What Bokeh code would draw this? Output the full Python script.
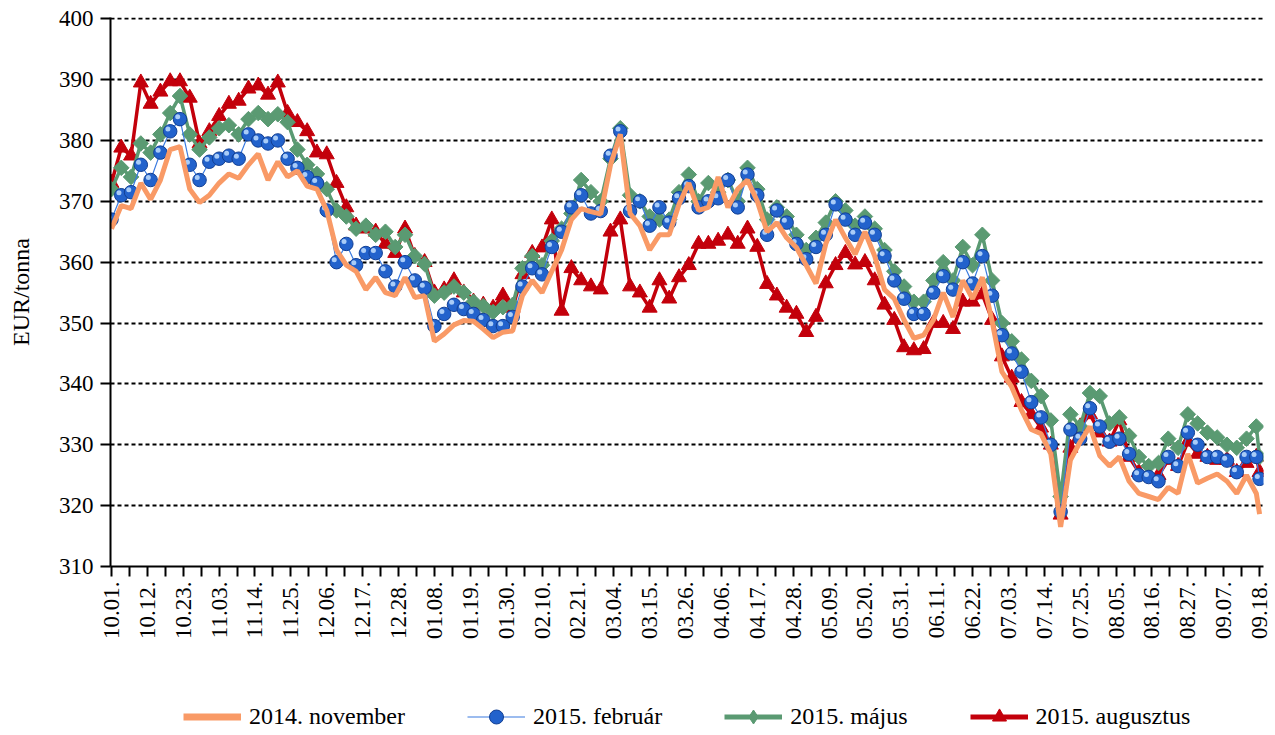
import numpy as np
from bokeh.plotting import figure
from bokeh.layouts import column
from bokeh.models import Range1d, FixedTicker, Legend, LegendItem
from bokeh.embed import file_html
from bokeh.resources import INLINE

# day offsets from 2014.10.01 (sampled every 3 days, last = 2015.09.18)
days = list(range(0, 352, 3)) + [352]

nov_2014 = [
    365.5, 369.3, 368.8, 373, 370.3, 373.5, 378.5, 379, 372, 369.8,
    371, 373, 374.5, 373.8, 376, 377.8, 373.5, 376.5, 374, 375,
    372.5, 372, 368.5, 362, 359.5, 358.5, 355.5, 357.5, 355, 354.5,
    357.5, 354.2, 354.5, 347, 348.2, 349.7, 350.4, 350.3, 349, 347.6,
    348.5, 348.7, 354.5, 357, 355, 358.5, 362, 367, 368.8, 368.3,
    367.9, 376, 381, 368, 366, 362, 364.5, 364.5, 369.5, 373,
    368.5, 369, 374, 369, 372, 373.5, 370, 365, 366.5, 364,
    362.4, 359.5, 356.5, 363, 367, 364, 361.3, 365, 361, 355.5,
    354, 350.5, 347.5, 348, 350.5, 355, 351, 357, 354, 357.5,
    350.3, 342, 339.5, 335.7, 332.5, 331.8, 328.5, 316.5, 327.5, 330.5,
    333, 328.2, 326.5, 328, 324, 322, 321.5, 321, 323, 322,
    328.5, 323.7, 324.5, 325.2, 324, 322, 325, 322, 318.6,
]

feb_2015 = [
    367, 371, 371.5, 376, 373.5, 378, 381.5, 383.5, 376, 373.5,
    376.5, 377, 377.5, 377, 381, 380, 379.5, 380, 377, 375.5,
    374, 373, 368.5, 360, 363, 359.5, 361.5, 361.5, 358.5, 356,
    360, 357, 355.8, 349.5, 351.5, 353, 352.3, 351.5, 350.5, 349.5,
    349.5, 351, 356, 359, 358, 362.5, 365, 369, 371, 368,
    368.4, 377.5, 381.5, 368.4, 370, 366, 369, 366.5, 370.5, 372.5,
    369, 370, 370.5, 373.5, 369, 374.4, 371, 364.5, 368.5, 366.5,
    363, 360.5, 362.5, 364.5, 369.5, 367, 364.5, 366.5, 364.5, 361,
    357, 354, 351.5, 351.5, 355, 357.7, 355.5, 360, 356.5, 361,
    354.5, 348, 345, 342, 337, 334.5, 330, 319, 332.5, 331,
    336, 333, 330.5, 331, 328.5, 325, 324.7, 324, 328, 326.5,
    332, 330, 328, 328, 327.4, 325.5, 328, 328, 324.4,
]

maj_2015 = [
    372, 375.5, 374, 379.5, 378, 381, 384.5, 387.3, 381, 378.5,
    380.5, 382, 382.5, 381, 383.5, 384.5, 383.5, 384.3, 383, 378.5,
    376, 374.5, 372, 368.5, 367.5, 365.5, 366, 364.5, 365, 362.5,
    364.5, 361, 359.7, 354.5, 355, 356, 355, 353.5, 352.8, 351.8,
    352.6, 353, 359, 361, 359.5, 363.5, 365.5, 368, 373.5, 371.5,
    370, 377, 382, 371, 370, 367.5, 367, 367, 371.5, 374.4,
    370, 373, 371.5, 373.5, 370, 375.5, 372, 367, 369, 367.5,
    364.5, 362, 364, 366.5, 370, 368.5, 366, 367.5, 365.5, 362,
    358.5, 356, 353.5, 353.5, 357, 360, 357, 362.5, 359.5, 364.5,
    357, 350, 347, 344, 340.5, 338, 334, 321.5, 335, 333,
    338.5, 338, 333.5, 334.5, 331.5, 328, 326.5, 327, 331, 329.5,
    335, 333.5, 332, 331.2, 330, 329.5, 331, 333, 328,
]

aug_2015 = [
    373, 378.8, 377.5, 389.5, 386, 388, 389.7, 389.7, 387, 379.5,
    381.5, 384, 386, 386.5, 388.5, 389, 387.5, 389.5, 384.5, 383,
    381.5, 378, 377.7, 373, 369, 366, 365.5, 365, 363, 361.5,
    365.5, 361, 360, 355, 355.5, 357, 355, 353.5, 353, 352.5,
    354.5, 352.5, 358, 361.5, 362.4, 367, 352, 359, 357, 356,
    355.5, 365, 367, 356, 355, 352.5, 357, 354, 357.5, 359.5,
    363, 363, 363.5, 364.5, 363, 365.5, 362.5, 356.4, 354.5, 352.5,
    351.5, 348.5, 351, 356.5, 359.5, 361.5, 359.6, 360, 357, 353,
    350.5, 346, 345.5, 345.7, 350, 350, 349, 353.5, 353.5, 354.7,
    350.5, 344.5, 341, 337, 335, 332.8, 330, 318.5, 329.5, 333,
    335, 332, 330.5, 334, 328, 325.5, 325, 325, 327.5, 326.5,
    330.5, 328.5, 328, 327.5, 327.5, 325.5, 327, 328, 325.5,
]

tick_days = list(range(0, 353, 11))
tick_labels = ["10.01.", "10.12.", "10.23.", "11.03.", "11.14.", "11.25.", "12.06.",
               "12.17.", "12.28.", "01.08.", "01.19.", "01.30.", "02.10.", "02.21.",
               "03.04.", "03.15.", "03.26.", "04.06.", "04.17.", "04.28.", "05.09.",
               "05.20.", "05.31.", "06.11.", "06.22.", "07.03.", "07.14.", "07.25.",
               "08.05.", "08.16.", "08.27.", "09.07.", "09.18."]
y_ticks = [310, 320, 330, 340, 350, 360, 370, 380, 390, 400]
series_names = ["2014. november", "2015. február", "2015. május", "2015. augusztus"]

ORANGE = "#F99A66"
BLUE = "#2262CC"
BLUE_EDGE = "#123F93"
BLUE_LINE = "#3A7BE0"
GREEN = "#5A9A72"
RED = "#C3000B"
FONT = "Liberation Serif"

W = 1275
X0, X1 = -0.3, 353.2
Y0, Y1 = 310, 400.2
p = figure(width=W, height=695, x_range=Range1d(X0, X1), y_range=Range1d(Y0, Y1),
           output_backend="svg", toolbar_location=None,
           min_border_left=110, min_border_right=12, min_border_top=17, min_border_bottom=129)
p.outline_line_color = None
p.background_fill_color = "white"
p.border_fill_color = "white"

# grid
p.xgrid.visible = False
p.ygrid.ticker = FixedTicker(ticks=y_ticks[1:])
p.ygrid.grid_line_color = "black"
p.ygrid.grid_line_dash = "4 3"
p.ygrid.grid_line_width = 2

# y axis
p.yaxis.ticker = FixedTicker(ticks=y_ticks)
p.yaxis.axis_label = "EUR/tonna"
p.yaxis.axis_label_text_font = FONT
p.yaxis.axis_label_text_font_size = "24px"
p.yaxis.axis_label_text_font_style = "normal"
p.yaxis.axis_label_standoff = 22
p.yaxis.major_label_text_font = FONT
p.yaxis.major_label_text_font_size = "23px"
p.yaxis.major_label_standoff = 7
p.yaxis.major_tick_in = 0
p.yaxis.major_tick_out = 10
p.yaxis.minor_tick_line_color = None

# x axis
minor = [d + 5.5 for d in tick_days[:-1]]
p.xaxis.ticker = FixedTicker(ticks=tick_days, minor_ticks=minor)
p.xaxis.major_label_overrides = {d: lab for d, lab in zip(tick_days, tick_labels)}
p.xaxis.major_label_orientation = np.pi / 2
p.xaxis.major_label_text_font = FONT
p.xaxis.major_label_text_font_size = "23px"
p.xaxis.major_label_standoff = 5
p.xaxis.major_tick_in = 0
p.xaxis.major_tick_out = 10
p.xaxis.minor_tick_in = 0
p.xaxis.minor_tick_out = 10

for ax in (p.xaxis, p.yaxis):
    ax.axis_line_color = "black"
    ax.axis_line_width = 2
    ax.major_tick_line_color = "black"
    ax.major_tick_line_width = 2
    ax.minor_tick_line_width = 2
    ax.major_label_text_color = "black"
    ax.axis_label_text_color = "black"
p.xaxis.minor_tick_line_color = "black"

# shifted ranges give the sphere highlight a small screen offset (up-left)
p.extra_x_ranges = {"hx": Range1d(X0 + 0.7, X1 + 0.7)}
p.extra_y_ranges = {"hy": Range1d(Y0 - 0.4, Y1 - 0.4)}


def draw(fig, lw_scale=1.0, highlight=True, diamond="square", diamond_angle=np.pi / 4,
         diamond_size=11):
    r = {}
    r["aug_l"] = fig.line(days, aug_2015, line_color=RED, line_width=3.5 * lw_scale)
    r["aug_m"] = fig.scatter(days, aug_2015, marker="triangle", size=15, fill_color=RED,
                             line_color=RED)
    r["maj_l"] = fig.line(days, maj_2015, line_color=GREEN, line_width=3.5 * lw_scale)
    r["maj_m"] = fig.scatter(days, maj_2015, marker=diamond, angle=diamond_angle,
                             size=diamond_size, fill_color=GREEN, line_color=GREEN)
    r["feb_l"] = fig.line(days, feb_2015, line_color=BLUE_LINE, line_width=1.2)
    r["feb_m"] = fig.scatter(days, feb_2015, marker="circle", size=13.5, fill_color=BLUE,
                             line_color=BLUE_EDGE, line_width=1)
    if highlight:
        fig.scatter(days, feb_2015, marker="circle", size=5, fill_color="#A9CCF7",
                    line_color=None, x_range_name="hx", y_range_name="hy")
    r["nov_l"] = fig.line(days, nov_2014, line_color=ORANGE, line_width=5 * lw_scale)
    return r


draw(p)

# legend strip below the chart (same series, drawn out of its view; only the legend shows)
q = figure(width=W, height=40, x_range=Range1d(X0, X1), y_range=Range1d(0, 1),
           output_backend="svg", toolbar_location=None, min_border=0)
q.axis.visible = False
q.grid.visible = False
q.outline_line_color = None
q.background_fill_color = "white"
q.border_fill_color = "white"
rq = draw(q, lw_scale=1.4, highlight=False, diamond="diamond", diamond_angle=0,
          diamond_size=15)

legend = Legend(items=[
    LegendItem(label=series_names[0], renderers=[rq["nov_l"]]),
    LegendItem(label=series_names[1], renderers=[rq["feb_l"], rq["feb_m"]]),
    LegendItem(label=series_names[2], renderers=[rq["maj_l"], rq["maj_m"]]),
    LegendItem(label=series_names[3], renderers=[rq["aug_l"], rq["aug_m"]]),
], orientation="horizontal", location=(73, 1))
legend.label_text_font = FONT
legend.label_text_font_size = "24px"
legend.label_text_color = "black"
legend.glyph_width = 58
legend.glyph_height = 35
legend.spacing = 62
legend.label_standoff = 8
legend.padding = 0
legend.margin = 0
legend.border_line_color = None
legend.background_fill_alpha = 0
q.add_layout(legend)

layout = column(p, q, spacing=0)
open("out.html", "w").write(file_html(layout, INLINE))
